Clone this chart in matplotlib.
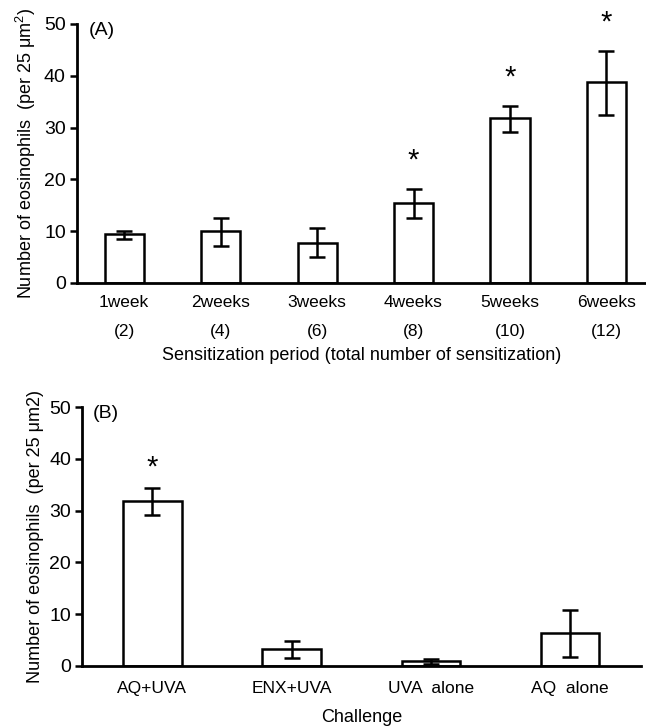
import matplotlib
matplotlib.use("Agg")
import matplotlib.pyplot as plt
import numpy as np

plt.rcParams['font.family'] = ['Liberation Sans', 'DejaVu Sans']
plt.rcParams['font.size'] = 12

# panel A data
periods = ["1week\n(2)", "2weeks\n(4)", "3weeks\n(6)", "4weeks\n(8)", "5weeks\n(10)", "6weeks\n(12)"]
a_mean = [9.4, 10.0, 7.7, 15.4, 31.8, 38.7]
a_low = [8.5, 7.1, 5.0, 12.5, 29.1, 32.5]
a_high = [10.0, 12.6, 10.5, 18.2, 34.2, 44.8]
a_star = [False, False, False, True, True, True]

# panel B data
challenges = ["AQ+UVA", "ENX+UVA", "UVA  alone", "AQ  alone"]
b_mean = [31.8, 3.2, 0.9, 6.4]
b_low = [29.1, 1.5, 0.3, 1.8]
b_high = [34.4, 4.8, 1.4, 10.9]
b_star = [True, False, False, False]


def panel(ax, labels, mean, low, high, star, width, xlim, tag, ylabel, xlabel, star_gap, xpad, lpad):
    x = np.arange(len(labels))
    mean = np.array(mean)
    err = [mean - np.array(low), np.array(high) - mean]
    ax.bar(x, mean, width=width, color="white", edgecolor="black", linewidth=1.8, zorder=2)
    ax.errorbar(x, mean, yerr=err, fmt="none", ecolor="black", elinewidth=1.8,
                capsize=6, capthick=1.8, zorder=3)
    for xi, hi, s in zip(x, high, star):
        if s:
            ax.text(xi, hi + star_gap, "*", ha="center", va="center", fontsize=21)
    ax.set_xlim(*xlim)
    ax.set_ylim(0, 50)
    ax.set_yticks([0, 10, 20, 30, 40, 50])
    ax.set_xticks(x)
    ax.set_xticklabels(labels, linespacing=2.1, fontsize=12.5)
    ax.tick_params(axis="x", length=0, pad=xpad)
    ax.tick_params(axis="y", length=5, width=1.8, direction="out", pad=3, labelsize=14)
    for sp in ["top", "right"]:
        ax.spines[sp].set_visible(False)
    for sp in ["left", "bottom"]:
        ax.spines[sp].set_linewidth(2.0)
    ax.set_ylabel(ylabel, fontsize=13, labelpad=4)
    ax.set_xlabel(xlabel, fontsize=13, labelpad=lpad)
    ax.text(0.02, 0.975, tag, transform=ax.transAxes, ha="left", va="center", fontsize=14)


fig = plt.figure(figsize=(6.46, 7.27), dpi=100)
ax1 = fig.add_axes([0.119, 0.611, 0.881, 0.356])
ax2 = fig.add_axes([0.127, 0.084, 0.865, 0.356])

panel(ax1, periods, a_mean, a_low, a_high, a_star, 0.405, (-0.49, 5.41), "(A)",
      "Number of eosinophils  (per 25 $\\mathregular{\\mu m^2}$)",
      "Sensitization period (total number of sensitization)", 5.5, 9, 6)
panel(ax2, challenges, b_mean, b_low, b_high, b_star, 0.42, (-0.506, 3.51), "(B)",
      "Number of eosinophils  (per 25 \u03bcm2)", "Challenge", 4.0, 11, 9)

fig.savefig("out.png", dpi=100)
